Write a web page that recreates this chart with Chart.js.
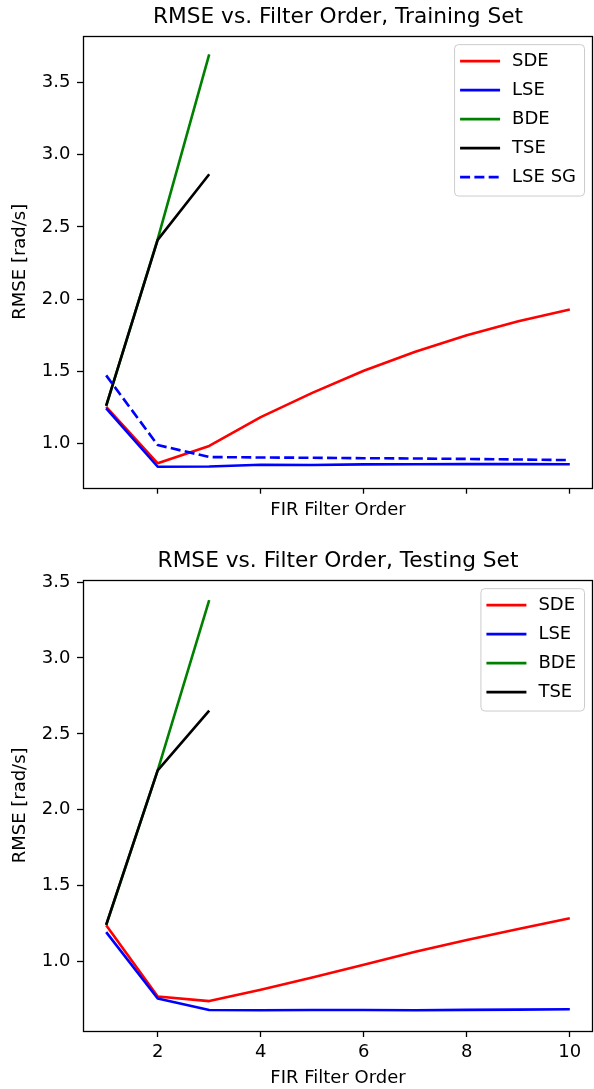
<!DOCTYPE html>
<html><head><meta charset="utf-8">
<script src="https://cdn.jsdelivr.net/npm/chart.js@4.4.0/dist/chart.umd.min.js"></script>
<style>
html,body{margin:0;padding:0;background:#fff;width:594px;height:1089px;overflow:hidden}
.wrap{position:absolute;left:0;width:594px;height:545px}
canvas{display:block}
</style></head><body>
<div class="wrap" style="top:0"><canvas id="c1" width="594" height="545"></canvas></div>
<div class="wrap" style="top:544px"><canvas id="c2" width="594" height="545"></canvas></div>
<script>
// ---- data ----
const filterOrders = [1, 2, 3, 4, 5, 6, 7, 8, 9, 10];
const xTicks = [2, 4, 6, 8, 10];
const yTicksTrain = [1.0, 1.5, 2.0, 2.5, 3.0, 3.5];
const yTicksTest = [1.0, 1.5, 2.0, 2.5, 3.0, 3.5];
const seriesNames = ['SDE', 'LSE', 'BDE', 'TSE', 'LSE SG'];

const trainSDE = [1.255, 0.865, 0.985, 1.184, 1.352, 1.505, 1.636, 1.751, 1.848, 1.929];
const trainLSE = [1.245, 0.841, 0.843, 0.855, 0.853, 0.857, 0.858, 0.859, 0.859, 0.858];
const trainBDE = [1.260, 2.415, 3.693];
const trainTSE = [1.263, 2.410, 2.864];
const trainLSESG = [1.473, 0.991, 0.908, 0.905, 0.903, 0.900, 0.898, 0.895, 0.891, 0.887];

const testSDE = [1.240, 0.770, 0.740, 0.815, 0.895, 0.980, 1.065, 1.143, 1.215, 1.286];
const testLSE = [1.194, 0.757, 0.681, 0.680, 0.681, 0.681, 0.680, 0.682, 0.684, 0.686];
const testBDE = [1.240, 2.260, 3.380];
const testTSE = [1.243, 2.260, 2.653];

// ---- helpers ----
const FONT = "'DejaVu Sans', sans-serif";
const pts = vals => vals.map((v, i) => ({ x: filterOrders[i], y: v }));
function ds(label, vals, color, idx, dash) {
  return { label, data: pts(vals), borderColor: color, backgroundColor: color,
    borderWidth: 2.6, pointRadius: 0, tension: 0, fill: false,
    borderDash: dash || [], order: 10 - idx, borderCapStyle: 'butt', borderJoinStyle: 'round' };
}

const framePlugin = {
  id: 'frame',
  afterDatasetsDraw(chart) {
    const { ctx, chartArea: a } = chart;
    ctx.save();
    ctx.strokeStyle = '#000';
    ctx.lineWidth = 1.3;
    ctx.strokeRect(Math.round(a.left) + 0.5, Math.round(a.top) + 0.5,
      Math.round(a.right - a.left) - 1, Math.round(a.bottom - a.top));
    ctx.restore();
  }
};

const legendPlugin = {
  id: 'mplLegend',
  afterDraw(chart) {
    const { ctx, chartArea: a } = chart;
    const sets = chart.data.datasets;
    ctx.save();
    ctx.font = '18px ' + FONT;
    let maxW = 0;
    sets.forEach(d => { maxW = Math.max(maxW, ctx.measureText(d.label).width); });
    const w = 6 + 40 + 13 + maxW + 7;
    const h = sets.length * 29 + 6.4;
    const x0 = a.right - 9 - w;
    const y0 = a.top + 8.4;
    ctx.beginPath();
    ctx.roundRect(x0 + 0.5, y0 + 0.5, w, h, 4);
    ctx.fillStyle = 'rgba(255,255,255,0.8)';
    ctx.fill();
    ctx.strokeStyle = '#cccccc';
    ctx.lineWidth = 1;
    ctx.stroke();
    sets.forEach((d, i) => {
      const cy = y0 + 17 + i * 29;
      ctx.beginPath();
      ctx.setLineDash(d.borderDash || []);
      ctx.strokeStyle = d.borderColor;
      ctx.lineWidth = d.borderWidth;
      ctx.lineCap = 'butt';
      ctx.moveTo(x0 + 6, cy);
      ctx.lineTo(x0 + 46, cy);
      ctx.stroke();
      ctx.setLineDash([]);
      ctx.fillStyle = '#000';
      ctx.textBaseline = 'middle';
      ctx.textAlign = 'left';
      ctx.fillText(d.label, x0 + 58, cy);
    });
    ctx.restore();
  }
};

function makeChart(id, title, datasets, yMin, yMax, yTicks, showXLabels, xScaleHeight, xTitlePad) {
  return new Chart(document.getElementById(id), {
    type: 'line',
    data: { datasets },
    plugins: [framePlugin, legendPlugin],
    options: {
      responsive: false,
      animation: false,
      devicePixelRatio: 1,
      layout: { padding: { left: 0, right: 1, top: 0, bottom: 0 } },
      plugins: {
        legend: { display: false },
        tooltip: { enabled: false },
        title: { display: true, text: title, color: '#000', fullSize: false,
          font: { family: FONT, size: 21.7, weight: 'normal' },
          padding: { top: 4.5, bottom: 5.2 } }
      },
      scales: {
        x: {
          type: 'linear', min: 0.55, max: 10.45,
          afterBuildTicks: s => { s.ticks = xTicks.map(v => ({ value: v })); },
          afterFit: s => { s.height = xScaleHeight; },
          border: { display: false },
          grid: { display: true, drawOnChartArea: false, drawTicks: true, tickLength: 6, tickWidth: 1.3, tickColor: '#000' },
          ticks: { color: '#000', padding: 5, maxRotation: 0, autoSkip: false,
            font: { family: FONT, size: 18 },
            callback: v => showXLabels ? String(v) : '' },
          title: { display: true, text: 'FIR Filter Order', color: '#000',
            font: { family: FONT, size: 18 }, padding: { top: 0, bottom: xTitlePad } }
        },
        y: {
          type: 'linear', min: yMin, max: yMax,
          afterBuildTicks: s => { s.ticks = yTicks.map(v => ({ value: v })); },
          afterFit: s => { s.width = 83; },
          border: { display: false },
          grid: { display: true, drawOnChartArea: false, drawTicks: true, tickLength: 6, tickWidth: 1.3, tickColor: '#000' },
          ticks: { color: '#000', padding: 6.5, autoSkip: false,
            font: { family: FONT, size: 18 },
            callback: v => Number(v).toFixed(1) },
          title: { display: true, text: 'RMSE [rad/s]', color: '#000',
            font: { family: FONT, size: 18 }, padding: { top: 10, bottom: 0 } }
        }
      }
    }
  });
}

makeChart('c1', 'RMSE vs. Filter Order, Training Set', [
  ds(seriesNames[0], trainSDE, '#ff0000', 0),
  ds(seriesNames[1], trainLSE, '#0000ff', 1),
  ds(seriesNames[2], trainBDE, '#008000', 2),
  ds(seriesNames[3], trainTSE, '#000000', 3),
  ds(seriesNames[4], trainLSESG, '#0000ff', 4, [10, 4.3])
], 0.696, 3.822, yTicksTrain, false, 57.3, 24.2);

makeChart('c2', 'RMSE vs. Filter Order, Testing Set', [
  ds(seriesNames[0], testSDE, '#ff0000', 0),
  ds(seriesNames[1], testLSE, '#0000ff', 1),
  ds(seriesNames[2], testBDE, '#008000', 2),
  ds(seriesNames[3], testTSE, '#000000', 3)
], 0.543, 3.515, yTicksTest, true, 58, 0.2);
</script>
</body></html>
